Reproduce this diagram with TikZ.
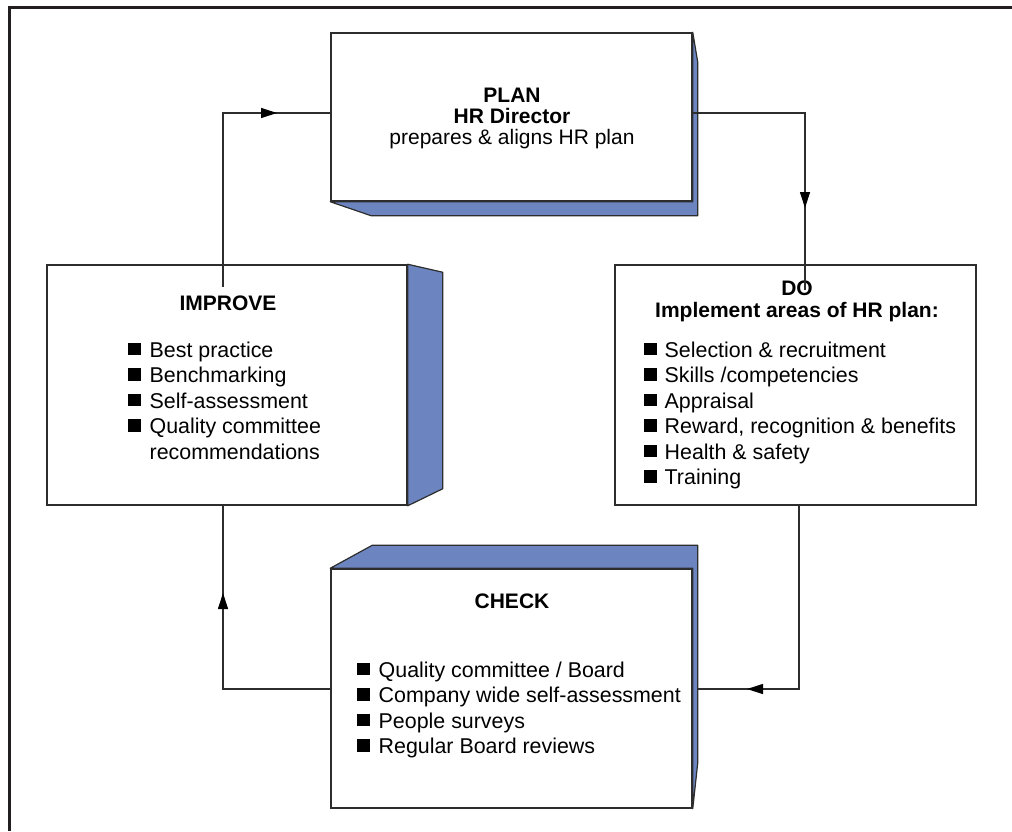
\documentclass[tikz,border=0pt]{standalone}
\usepackage{fontspec}
\setmainfont{Liberation Sans}
\usetikzlibrary{arrows.meta}
\definecolor{shade}{RGB}{108,133,192}
\definecolor{ink}{RGB}{45,45,45}
\definecolor{frame}{RGB}{35,31,32}
\newcommand\sqb{\rule[2pt]{12.5pt}{12.5pt}}
\begin{document}
\begin{tikzpicture}[x=1pt,y=-1pt,
  box/.style={draw=ink,line width=1.5pt,fill=white,inner sep=0pt},
  side/.style={draw=ink,line width=1.2pt,fill=shade,line join=round},
  conn/.style={draw=ink,line width=1.2pt},
  tipline/.style={draw=ink,line width=1.2pt,-{Triangle[length=16pt,width=10pt,color=black]}},
  title/.style={inner sep=0pt,anchor=base,font=\fontsize{21}{20}\selectfont\bfseries},
  list/.style={inner sep=0pt,anchor=base west,font=\fontsize{21.4}{25.5}\selectfont}
]
\useasboundingbox (0,0) rectangle (1012,831);
\draw[line width=3pt,color=frame] (9.5,831) -- (9.5,7.5) -- (1012,7.5);

% boxes
\node[box,minimum width=361pt,minimum height=168pt] (plan) at (511.5,117) {};
\draw[side] (plan.south west) -- (plan.south east) -- (plan.north east)
  -- ([shift={(5,30)}]plan.north east) -- ([shift={(5,14)}]plan.south east)
  -- ([shift={(41,14)}]plan.south west) -- cycle;

\node[box,minimum width=360pt,minimum height=240pt] (improve) at (227,385) {};
\draw[side] (improve.north east) -- ([shift={(35,8)}]improve.north east)
  -- ([shift={(35,-17)}]improve.south east) -- (improve.south east) -- cycle;

\node[box,minimum width=361pt,minimum height=240pt] (do) at (795.5,385) {};

\node[box,minimum width=361pt,minimum height=239pt] (check) at (511.5,688.5) {};
\draw[side] (check.south east) -- (check.north east) -- (check.north west)
  -- ([shift={(42,-23)}]check.north west) -- ([shift={(5,-23)}]check.north east)
  -- ([shift={(5,-46)}]check.south east) -- cycle;

% texts
\node[title] (plantxt) at (512,102) {\begin{tabular}[t]{@{}c@{}}PLAN\\HR Director\\\mdseries prepares \& aligns HR plan\end{tabular}};
\node[title] (imptxt) at (228,310) {IMPROVE};
\node[title,font=\fontsize{21}{22}\selectfont\bfseries] (dotxt) at (797,295) {\begin{tabular}[t]{@{}c@{}}DO\\Implement areas of HR plan:\end{tabular}};
\node[title] (chktxt) at (512,608) {CHECK};

\node[list] (implist) at (128,357) {\begin{tabular}[t]{@{}l@{\hspace{9pt}}l@{}}
\sqb & Best practice\\
\sqb & Benchmarking\\
\sqb & Self-assessment\\
\sqb & Quality committee\\
 & recommendations\end{tabular}};
\node[list] (dolist) at (644,357) {\begin{tabular}[t]{@{}l@{\hspace{8pt}}l@{}}
\sqb & Selection \& recruitment\\
\sqb & Skills /competencies\\
\sqb & Appraisal\\
\sqb & Reward, recognition \& benefits\\
\sqb & Health \& safety\\
\sqb & Training\end{tabular}};
\node[list] (chklist) at (357,677) {\begin{tabular}[t]{@{}l@{\hspace{9pt}}l@{}}
\sqb & Quality committee / Board\\
\sqb & Company wide self-assessment\\
\sqb & People surveys\\
\sqb & Regular Board reviews\end{tabular}};

% connectors
\coordinate (iin) at (223,287);
\coordinate (ptop) at (223,113);
\coordinate (din) at (805,290);
\coordinate (dbot) at (799,689);
\draw[conn] (iin) -- (ptop) -- (plan.west |- ptop);
\draw[conn] (plan.east |- ptop) -| (din);
\draw[conn] (do.south -| dbot) |- ([xshift=5pt]check.east |- dbot);
\draw[conn] (check.west |- dbot) -| (improve.south -| ptop);

\coordinate (a1) at (277,113);
\coordinate (a2) at (805,208);
\coordinate (a3) at (747,689);
\coordinate (a4) at (223,593);
\draw[tipline] ([xshift=-20pt]a1) -- (a1);
\draw[tipline] ([yshift=20pt]a2) -- (a2);
\draw[tipline] ([xshift=20pt]a3) -- (a3);
\draw[tipline] ([yshift=-20pt]a4) -- (a4);
\end{tikzpicture}
\end{document}
